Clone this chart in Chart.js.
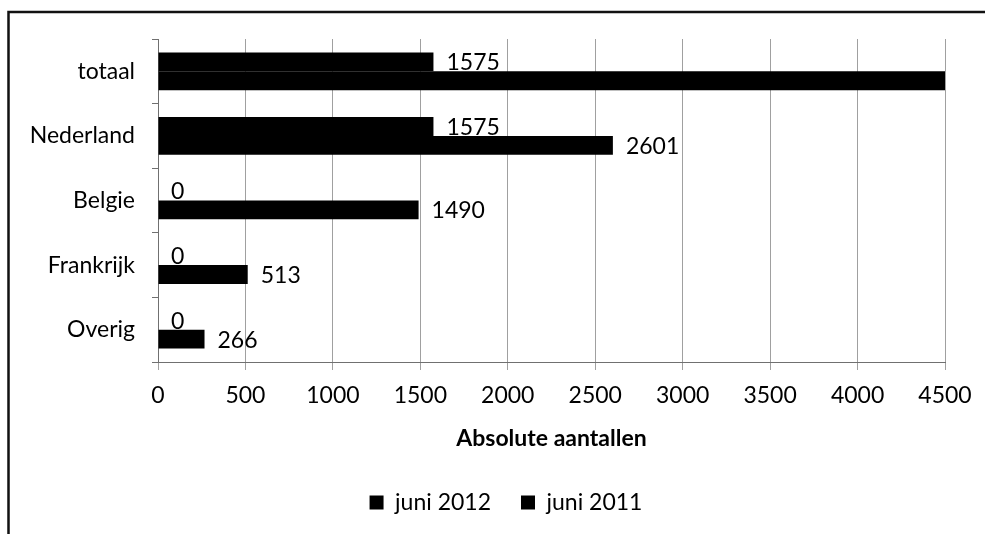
<!DOCTYPE html>
<html>
<head>
<meta charset="utf-8">
<script src="https://cdn.jsdelivr.net/npm/chart.js@4/dist/chart.umd.min.js"></script>
<style>
  html, body { margin: 0; padding: 0; background: #fff; }
  #wrap { width: 985px; height: 534px; }
</style>
</head>
<body>
<div id="wrap"><canvas id="c" width="985" height="534"></canvas></div>
<script>
// Categories (top to bottom) and the two yearly series
const categories = ['totaal', 'Nederland', 'Belgie', 'Frankrijk', 'Overig'];
const juni2012 = [1575, 1575, 0, 0, 0];
const juni2011 = [4870, 2601, 1490, 513, 266];
const seriesNames = ['juni 2012', 'juni 2011'];
const axisMax = 4500;
const axisStep = 500;
const axisTitle = 'Absolute aantallen';

const FONT = 'Lato';
const FS = 23;

// Frame around the whole figure (top and left edges)
const framePlugin = {
  id: 'frame',
  beforeDraw(chart) {
    const ctx = chart.ctx;
    ctx.save();
    ctx.fillStyle = '#fff';
    ctx.fillRect(0, 0, chart.width, chart.height);
    ctx.strokeStyle = '#111';
    ctx.lineWidth = 2.5;
    ctx.beginPath();
    ctx.moveTo(8.5, chart.height);
    ctx.lineTo(8.5, 12);
    ctx.lineTo(chart.width, 12);
    ctx.stroke();
    ctx.restore();
  }
};

// Value labels just past the end of each bar
const valueLabels = {
  id: 'valueLabels',
  afterDatasetsDraw(chart) {
    const ctx = chart.ctx;
    const area = chart.chartArea;
    ctx.save();
    ctx.font = FS + 'px ' + FONT;
    ctx.fillStyle = '#000';
    ctx.textAlign = 'left';
    ctx.textBaseline = 'middle';
    chart.data.datasets.forEach((ds, di) => {
      const meta = chart.getDatasetMeta(di);
      meta.data.forEach((bar, i) => {
        const v = ds.data[i];
        if (bar.x > area.right) return; // bar runs past the axis end
        ctx.fillText(String(v), bar.x + 13, bar.y + 1);
      });
    });
    ctx.restore();
  }
};

new Chart(document.getElementById('c'), {
  type: 'bar',
  data: {
    labels: categories,
    datasets: [
      { label: seriesNames[0], data: juni2012, backgroundColor: '#000', borderWidth: 0 },
      { label: seriesNames[1], data: juni2011, backgroundColor: '#000', borderWidth: 0 }
    ]
  },
  options: {
    indexAxis: 'y',
    responsive: false,
    animation: false,
    devicePixelRatio: 1,
    categoryPercentage: 0.584,
    barPercentage: 1.0,
    layout: { padding: { top: 39, right: 0, bottom: 10, left: 27 } },
    plugins: {
      legend: {
        position: 'bottom',
        labels: {
          font: { family: FONT, size: FS },
          color: '#000',
          boxWidth: 14,
          boxHeight: 14,
          padding: 30
        }
      },
      tooltip: { enabled: false }
    },
    scales: {
      x: {
        type: 'linear',
        position: 'bottom',
        min: 0,
        max: axisMax,
        ticks: {
          stepSize: axisStep,
          font: { family: FONT, size: FS },
          color: '#000',
          padding: 12,
          callback: (v) => String(v)
        },
        grid: { color: '#a0a0a0', lineWidth: 1, tickLength: 8 },
        border: { color: '#707070', width: 1 },
        title: {
          display: true,
          text: axisTitle,
          font: { family: FONT, size: FS, weight: 'bold' },
          color: '#000',
          padding: { top: 0, bottom: 9 }
        },
        afterFit(scale) { scale.height = 99; }
      },
      y: {
        type: 'category',
        position: 'left',
        ticks: {
          font: { family: FONT, size: FS },
          color: '#000',
          padding: 17
        },
        grid: {
          offset: true,
          drawOnChartArea: false,
          color: '#707070',
          tickLength: 6
        },
        border: { color: '#707070', width: 1 },
        afterFit(scale) { scale.width = 131; }
      },
      yRight: {
        type: 'linear',
        position: 'right',
        display: true,
        ticks: { display: false },
        grid: { display: false, drawTicks: false },
        border: { display: false },
        afterFit(scale) { scale.width = 40; }
      }
    }
  },
  plugins: [framePlugin, valueLabels]
});
</script>
</body>
</html>
